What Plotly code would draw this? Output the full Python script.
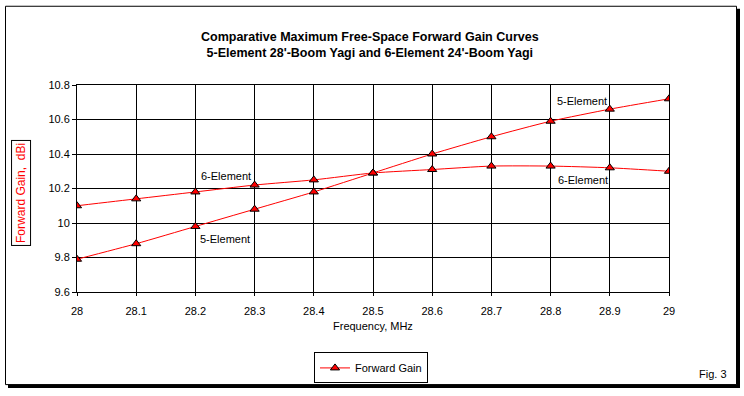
import plotly.graph_objects as go

freqs = [28.0, 28.1, 28.2, 28.3, 28.4, 28.5, 28.6, 28.7, 28.8, 28.9, 29.0]
gain_5el = [9.79, 9.88, 9.98, 10.08, 10.18, 10.29, 10.40, 10.50, 10.59, 10.66, 10.72]
gain_6el = [10.10, 10.14, 10.18, 10.22, 10.25, 10.29, 10.31, 10.33, 10.33, 10.32, 10.30]
series_name = "Forward Gain"
labels = [("6-Element", 28.252, 10.272), ("5-Element", 28.25, 9.905),
          ("5-Element", 28.853, 10.708), ("6-Element", 28.855, 10.25)]

W, H = 744, 396
L, R, T, B = 77, 669, 85, 294

def px(x):
    return (x - L) / (R - L)

def py(y):
    return (B - y) / (B - T)

NARROW = "Liberation Sans"
REG = "Liberation Sans"

marker = dict(symbol="triangle-up", size=8, color="#ff0000",
              line=dict(color="black", width=1))
line = dict(color="#ff0000", width=1, shape="spline", smoothing=0.6)

fig = go.Figure()
fig.add_trace(go.Scatter(x=freqs, y=gain_5el, mode="lines+markers", name=series_name,
                         marker=marker, line=line, showlegend=True))
fig.add_trace(go.Scatter(x=freqs, y=gain_6el, mode="lines+markers", name=series_name,
                         marker=marker, line=line, showlegend=False))

annotations = [
    dict(text="<b>Comparative Maximum Free-Space Forward Gain Curves</b><br><b>5-Element 28'-Boom Yagi and 6-Element 24'-Boom Yagi</b>",
         xref="paper", yref="paper", x=px(370), y=py(45), xanchor="center", yanchor="middle",
         showarrow=False, font=dict(family=NARROW, size=12.5, color="black")),
    dict(text="Frequency, MHz", xref="paper", yref="paper", x=px(373), y=py(328),
         xanchor="center", yanchor="middle", showarrow=False,
         font=dict(family=NARROW, size=11, color="black")),
    dict(text="Forward Gain,  dBi", xref="paper", yref="paper", x=px(21), y=py(194),
         xanchor="center", yanchor="middle", textangle=-90, showarrow=False,
         font=dict(family=REG, size=12, color="#ff0000"),
         bordercolor="black", borderwidth=1, borderpad=2, bgcolor="white"),
    dict(text="Fig. 3", xref="paper", yref="paper", x=px(729), y=py(377),
         xanchor="right", yanchor="middle", showarrow=False,
         font=dict(family=NARROW, size=11, color="black")),
]
for t, x, y in labels:
    annotations.append(dict(text=t, x=x, y=y, xref="x", yref="y", showarrow=False,
                            xanchor="center", yanchor="middle",
                            font=dict(family=REG, size=11, color="black")))

shapes = [
    # shadow
    dict(type="rect", xref="paper", yref="paper", x0=px(736), x1=px(740), y0=py(8), y1=py(391),
         fillcolor="black", line=dict(width=0), layer="below"),
    dict(type="rect", xref="paper", yref="paper", x0=px(8), x1=px(740), y0=py(387), y1=py(391),
         fillcolor="black", line=dict(width=0), layer="below"),
    # frame
    dict(type="rect", xref="paper", yref="paper", x0=px(5.5), x1=px(736.5), y0=py(5.5), y1=py(387.5),
         fillcolor="white", line=dict(color="black", width=1), layer="below"),
]

fig.update_layout(
    width=W, height=H,
    margin=dict(l=L, r=W - R, t=T, b=H - B, pad=0),
    paper_bgcolor="white", plot_bgcolor="rgba(0,0,0,0)",
    showlegend=True,
    legend=dict(orientation="h", x=px(371), y=py(355), xanchor="center", yanchor="top",
                bordercolor="black", borderwidth=1, bgcolor="white",
                font=dict(family=NARROW, size=11, color="black"),
                itemwidth=30, tracegroupgap=0),
    annotations=annotations,
    shapes=shapes,
)
fig.update_xaxes(range=[28, 29], tick0=28, dtick=0.1, showgrid=True, gridcolor="black", gridwidth=1,
                 showline=True, linecolor="black", linewidth=1, mirror=True,
                 ticks="outside", ticklen=3, tickcolor="black", ticklabelstandoff=6,
                 tickfont=dict(family=NARROW, size=11, color="black"), zeroline=False,
                 fixedrange=True)
fig.update_yaxes(range=[9.6, 10.8], tick0=9.6, dtick=0.2, showgrid=True, gridcolor="black", gridwidth=1,
                 showline=True, linecolor="black", linewidth=1, mirror=True,
                 ticks="outside", ticklen=4, tickcolor="black",
                 tickfont=dict(family=REG, size=11, color="black"), zeroline=False,
                 fixedrange=True)

fig.write_html("out.html", config={"displayModeBar": False},
               post_script="document.body.style.margin='0';document.body.style.overflow='hidden';")
